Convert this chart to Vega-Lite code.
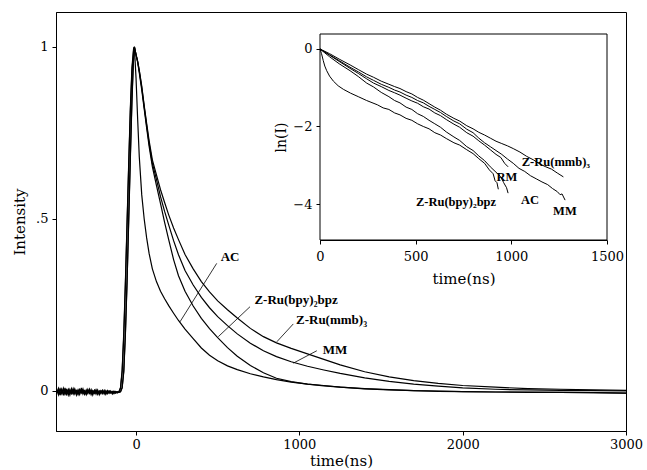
{
"$schema": "https://vega.github.io/schema/vega-lite/v6.json",
"width": 570, "height": 419,
"autosize": "none",
"padding": {"left": 56, "top": 12, "right": 21, "bottom": 39},
"background": "white",
"config": {
  "view": {"stroke": "black", "strokeWidth": 1},
  "font": "DejaVu Serif",
  "axis": {"labelFont": "DejaVu Serif", "titleFont": "DejaVu Serif", "labelColor": "black", "titleColor": "black", "domainColor": "black", "tickColor": "black", "titleFontWeight": "normal", "grid": false, "labelFontSize": 13, "titleFontSize": 15, "tickSize": 4, "domainWidth": 1, "tickWidth": 1}
},
"datasets": {
"main": [
{"s":"AC","t":-485,"v":-0.004},{"s":"AC","t":-475,"v":0.008},{"s":"AC","t":-465,"v":-0.012},{"s":"AC","t":-455,"v":0.005},{"s":"AC","t":-445,"v":-0.013},{"s":"AC","t":-435,"v":0.009},{"s":"AC","t":-425,"v":-0.008},{"s":"AC","t":-415,"v":0.003},{"s":"AC","t":-405,"v":-0.012},{"s":"AC","t":-395,"v":0.007},{"s":"AC","t":-385,"v":-0.006},{"s":"AC","t":-375,"v":0.006},{"s":"AC","t":-365,"v":-0.012},{"s":"AC","t":-355,"v":0.003},{"s":"AC","t":-345,"v":-0.01},{"s":"AC","t":-335,"v":0.009},{"s":"AC","t":-325,"v":-0.009},{"s":"AC","t":-315,"v":0.001},{"s":"AC","t":-305,"v":-0.011},{"s":"AC","t":-295,"v":0.005},{"s":"AC","t":-285,"v":-0.007},{"s":"AC","t":-275,"v":0.004},{"s":"AC","t":-265,"v":-0.012},{"s":"AC","t":-255,"v":0.002},{"s":"AC","t":-245,"v":-0.009},{"s":"AC","t":-235,"v":0.003},{"s":"AC","t":-225,"v":-0.011},{"s":"AC","t":-215,"v":0.0},{"s":"AC","t":-205,"v":-0.008},{"s":"AC","t":-195,"v":0.002},{"s":"AC","t":-185,"v":-0.01},{"s":"AC","t":-175,"v":0.001},{"s":"AC","t":-165,"v":-0.007},{"s":"AC","t":-155,"v":0.0},{"s":"AC","t":-145,"v":-0.009},{"s":"AC","t":-135,"v":-0.001},{"s":"AC","t":-125,"v":-0.006},{"s":"AC","t":-115,"v":-0.002},
{"s":"AC","t":-105,"v":-0.003},{"s":"AC","t":-95,"v":0.01},{"s":"AC","t":-85,"v":0.06},{"s":"AC","t":-75,"v":0.17},{"s":"AC","t":-65,"v":0.32},{"s":"AC","t":-55,"v":0.49},{"s":"AC","t":-45,"v":0.66},{"s":"AC","t":-35,"v":0.82},{"s":"AC","t":-25,"v":0.94},{"s":"AC","t":-15,"v":0.995},{"s":"AC","t":-10,"v":1.0},
{"s":"AC","t":0,"v":0.91},{"s":"AC","t":10,"v":0.79},{"s":"AC","t":20,"v":0.68},{"s":"AC","t":35,"v":0.57},{"s":"AC","t":50,"v":0.5},{"s":"AC","t":65,"v":0.445},{"s":"AC","t":80,"v":0.4},{"s":"AC","t":100,"v":0.355},{"s":"AC","t":125,"v":0.318},{"s":"AC","t":150,"v":0.29},{"s":"AC","t":175,"v":0.268},{"s":"AC","t":200,"v":0.248},{"s":"AC","t":230,"v":0.226},{"s":"AC","t":260,"v":0.205},{"s":"AC","t":300,"v":0.18},{"s":"AC","t":350,"v":0.152},{"s":"AC","t":400,"v":0.125},{"s":"AC","t":450,"v":0.104},{"s":"AC","t":500,"v":0.088},{"s":"AC","t":560,"v":0.073},{"s":"AC","t":620,"v":0.062},{"s":"AC","t":700,"v":0.05},{"s":"AC","t":780,"v":0.041},{"s":"AC","t":860,"v":0.033},{"s":"AC","t":950,"v":0.026},{"s":"AC","t":1050,"v":0.02},{"s":"AC","t":1150,"v":0.016},{"s":"AC","t":1250,"v":0.011},{"s":"AC","t":1400,"v":0.007},{"s":"AC","t":1550,"v":0.004},{"s":"AC","t":1700,"v":0.001},{"s":"AC","t":1850,"v":0.0},{"s":"AC","t":2000,"v":-0.002},{"s":"AC","t":2200,"v":-0.003},{"s":"AC","t":2400,"v":-0.003},{"s":"AC","t":2600,"v":-0.004},{"s":"AC","t":2800,"v":-0.005},{"s":"AC","t":3000,"v":-0.006},
{"s":"bpy","t":-485,"v":0.004},{"s":"bpy","t":-475,"v":-0.011},{"s":"bpy","t":-465,"v":0.006},{"s":"bpy","t":-455,"v":-0.008},{"s":"bpy","t":-445,"v":0.008},{"s":"bpy","t":-435,"v":-0.01},{"s":"bpy","t":-425,"v":0.002},{"s":"bpy","t":-415,"v":-0.012},{"s":"bpy","t":-405,"v":0.005},{"s":"bpy","t":-395,"v":-0.007},{"s":"bpy","t":-385,"v":0.007},{"s":"bpy","t":-375,"v":-0.009},{"s":"bpy","t":-365,"v":0.001},{"s":"bpy","t":-355,"v":-0.011},{"s":"bpy","t":-345,"v":0.004},{"s":"bpy","t":-335,"v":-0.006},{"s":"bpy","t":-325,"v":0.006},{"s":"bpy","t":-315,"v":-0.01},{"s":"bpy","t":-305,"v":0.003},{"s":"bpy","t":-295,"v":-0.008},{"s":"bpy","t":-285,"v":0.005},{"s":"bpy","t":-275,"v":-0.011},{"s":"bpy","t":-265,"v":0.001},{"s":"bpy","t":-255,"v":-0.007},{"s":"bpy","t":-245,"v":0.004},{"s":"bpy","t":-235,"v":-0.01},{"s":"bpy","t":-225,"v":0.0},{"s":"bpy","t":-215,"v":-0.008},{"s":"bpy","t":-205,"v":0.002},{"s":"bpy","t":-195,"v":-0.009},{"s":"bpy","t":-185,"v":0.001},{"s":"bpy","t":-175,"v":-0.008},{"s":"bpy","t":-165,"v":0.0},{"s":"bpy","t":-155,"v":-0.006},{"s":"bpy","t":-145,"v":-0.001},{"s":"bpy","t":-135,"v":-0.008},{"s":"bpy","t":-125,"v":-0.002},{"s":"bpy","t":-115,"v":-0.006},
{"s":"bpy","t":-105,"v":-0.003},{"s":"bpy","t":-95,"v":0.008},{"s":"bpy","t":-85,"v":0.055},{"s":"bpy","t":-75,"v":0.16},{"s":"bpy","t":-65,"v":0.31},{"s":"bpy","t":-55,"v":0.48},{"s":"bpy","t":-45,"v":0.65},{"s":"bpy","t":-35,"v":0.81},{"s":"bpy","t":-25,"v":0.93},{"s":"bpy","t":-15,"v":0.99},{"s":"bpy","t":-10,"v":1.0},
{"s":"bpy","t":0,"v":0.978},{"s":"bpy","t":10,"v":0.955},{"s":"bpy","t":20,"v":0.925},{"s":"bpy","t":35,"v":0.875},{"s":"bpy","t":50,"v":0.82},{"s":"bpy","t":65,"v":0.765},{"s":"bpy","t":80,"v":0.712},{"s":"bpy","t":100,"v":0.652},{"s":"bpy","t":125,"v":0.598},{"s":"bpy","t":150,"v":0.545},{"s":"bpy","t":175,"v":0.49},{"s":"bpy","t":200,"v":0.44},{"s":"bpy","t":230,"v":0.382},{"s":"bpy","t":260,"v":0.335},{"s":"bpy","t":300,"v":0.29},{"s":"bpy","t":350,"v":0.247},{"s":"bpy","t":400,"v":0.211},{"s":"bpy","t":450,"v":0.181},{"s":"bpy","t":500,"v":0.155},{"s":"bpy","t":560,"v":0.126},{"s":"bpy","t":620,"v":0.101},{"s":"bpy","t":700,"v":0.074},{"s":"bpy","t":780,"v":0.053},{"s":"bpy","t":860,"v":0.037},{"s":"bpy","t":950,"v":0.027},{"s":"bpy","t":1050,"v":0.02},{"s":"bpy","t":1150,"v":0.015},{"s":"bpy","t":1250,"v":0.011},{"s":"bpy","t":1400,"v":0.006},{"s":"bpy","t":1550,"v":0.003},{"s":"bpy","t":1700,"v":0.001},{"s":"bpy","t":1850,"v":-0.001},{"s":"bpy","t":2000,"v":-0.002},{"s":"bpy","t":2200,"v":-0.003},{"s":"bpy","t":2400,"v":-0.004},{"s":"bpy","t":2600,"v":-0.004},{"s":"bpy","t":2800,"v":-0.005},{"s":"bpy","t":3000,"v":-0.006},
{"s":"MM","t":-485,"v":-0.006},{"s":"MM","t":-475,"v":0.003},{"s":"MM","t":-465,"v":-0.009},{"s":"MM","t":-455,"v":0.004},{"s":"MM","t":-445,"v":-0.007},{"s":"MM","t":-435,"v":0.002},{"s":"MM","t":-425,"v":-0.01},{"s":"MM","t":-415,"v":0.005},{"s":"MM","t":-405,"v":-0.006},{"s":"MM","t":-395,"v":0.001},{"s":"MM","t":-385,"v":-0.009},{"s":"MM","t":-375,"v":0.004},{"s":"MM","t":-365,"v":-0.005},{"s":"MM","t":-355,"v":0.002},{"s":"MM","t":-345,"v":-0.008},{"s":"MM","t":-335,"v":0.003},{"s":"MM","t":-325,"v":-0.006},{"s":"MM","t":-315,"v":0.0},{"s":"MM","t":-305,"v":-0.009},{"s":"MM","t":-295,"v":0.002},{"s":"MM","t":-285,"v":-0.005},{"s":"MM","t":-275,"v":0.001},{"s":"MM","t":-265,"v":-0.008},{"s":"MM","t":-255,"v":0.002},{"s":"MM","t":-245,"v":-0.006},{"s":"MM","t":-235,"v":0.0},{"s":"MM","t":-225,"v":-0.007},{"s":"MM","t":-215,"v":0.001},{"s":"MM","t":-205,"v":-0.005},{"s":"MM","t":-195,"v":-0.001},{"s":"MM","t":-185,"v":-0.007},{"s":"MM","t":-175,"v":0.0},{"s":"MM","t":-165,"v":-0.005},{"s":"MM","t":-155,"v":-0.002},{"s":"MM","t":-145,"v":-0.006},{"s":"MM","t":-135,"v":-0.001},{"s":"MM","t":-125,"v":-0.005},{"s":"MM","t":-115,"v":-0.003},{"s":"MM","t":-105,"v":-0.004},
{"s":"MM","t":-95,"v":-0.002},{"s":"MM","t":-85,"v":0.01},{"s":"MM","t":-75,"v":0.06},{"s":"MM","t":-65,"v":0.17},{"s":"MM","t":-55,"v":0.32},{"s":"MM","t":-45,"v":0.5},{"s":"MM","t":-35,"v":0.68},{"s":"MM","t":-25,"v":0.85},{"s":"MM","t":-17,"v":0.95},{"s":"MM","t":-10,"v":1.0},
{"s":"MM","t":0,"v":0.978},{"s":"MM","t":10,"v":0.958},{"s":"MM","t":20,"v":0.93},{"s":"MM","t":35,"v":0.882},{"s":"MM","t":50,"v":0.826},{"s":"MM","t":65,"v":0.772},{"s":"MM","t":80,"v":0.72},{"s":"MM","t":100,"v":0.662},{"s":"MM","t":125,"v":0.615},{"s":"MM","t":150,"v":0.565},{"s":"MM","t":175,"v":0.522},{"s":"MM","t":200,"v":0.483},{"s":"MM","t":230,"v":0.437},{"s":"MM","t":260,"v":0.396},{"s":"MM","t":300,"v":0.35},{"s":"MM","t":350,"v":0.308},{"s":"MM","t":400,"v":0.272},{"s":"MM","t":450,"v":0.242},{"s":"MM","t":500,"v":0.216},{"s":"MM","t":560,"v":0.19},{"s":"MM","t":620,"v":0.166},{"s":"MM","t":700,"v":0.139},{"s":"MM","t":780,"v":0.117},{"s":"MM","t":860,"v":0.1},{"s":"MM","t":950,"v":0.085},{"s":"MM","t":1050,"v":0.072},{"s":"MM","t":1150,"v":0.061},{"s":"MM","t":1250,"v":0.051},{"s":"MM","t":1400,"v":0.038},{"s":"MM","t":1550,"v":0.028},{"s":"MM","t":1700,"v":0.02},{"s":"MM","t":1850,"v":0.014},{"s":"MM","t":2000,"v":0.009},{"s":"MM","t":2200,"v":0.005},{"s":"MM","t":2400,"v":0.003},{"s":"MM","t":2600,"v":0.002},{"s":"MM","t":2800,"v":0.001},{"s":"MM","t":3000,"v":0.0},
{"s":"mmb","t":-485,"v":0.002},{"s":"mmb","t":-475,"v":-0.007},{"s":"mmb","t":-465,"v":0.005},{"s":"mmb","t":-455,"v":-0.005},{"s":"mmb","t":-445,"v":0.003},{"s":"mmb","t":-435,"v":-0.008},{"s":"mmb","t":-425,"v":0.004},{"s":"mmb","t":-415,"v":-0.004},{"s":"mmb","t":-405,"v":0.002},{"s":"mmb","t":-395,"v":-0.007},{"s":"mmb","t":-385,"v":0.003},{"s":"mmb","t":-375,"v":-0.006},{"s":"mmb","t":-365,"v":0.001},{"s":"mmb","t":-355,"v":-0.008},{"s":"mmb","t":-345,"v":0.004},{"s":"mmb","t":-335,"v":-0.004},{"s":"mmb","t":-325,"v":0.002},{"s":"mmb","t":-315,"v":-0.007},{"s":"mmb","t":-305,"v":0.001},{"s":"mmb","t":-295,"v":-0.005},{"s":"mmb","t":-285,"v":0.003},{"s":"mmb","t":-275,"v":-0.007},{"s":"mmb","t":-265,"v":0.0},{"s":"mmb","t":-255,"v":-0.005},{"s":"mmb","t":-245,"v":0.002},{"s":"mmb","t":-235,"v":-0.006},{"s":"mmb","t":-225,"v":0.0},{"s":"mmb","t":-215,"v":-0.004},{"s":"mmb","t":-205,"v":0.001},{"s":"mmb","t":-195,"v":-0.006},{"s":"mmb","t":-185,"v":-0.001},{"s":"mmb","t":-175,"v":-0.005},{"s":"mmb","t":-165,"v":0.0},{"s":"mmb","t":-155,"v":-0.005},{"s":"mmb","t":-145,"v":-0.002},{"s":"mmb","t":-135,"v":-0.004},{"s":"mmb","t":-125,"v":-0.001},{"s":"mmb","t":-115,"v":-0.004},{"s":"mmb","t":-105,"v":-0.003},
{"s":"mmb","t":-95,"v":-0.002},{"s":"mmb","t":-85,"v":0.009},{"s":"mmb","t":-75,"v":0.055},{"s":"mmb","t":-65,"v":0.165},{"s":"mmb","t":-55,"v":0.315},{"s":"mmb","t":-45,"v":0.49},{"s":"mmb","t":-35,"v":0.67},{"s":"mmb","t":-25,"v":0.84},{"s":"mmb","t":-17,"v":0.945},{"s":"mmb","t":-10,"v":1.0},
{"s":"mmb","t":0,"v":0.978},{"s":"mmb","t":10,"v":0.958},{"s":"mmb","t":20,"v":0.932},{"s":"mmb","t":35,"v":0.886},{"s":"mmb","t":50,"v":0.83},{"s":"mmb","t":65,"v":0.778},{"s":"mmb","t":80,"v":0.728},{"s":"mmb","t":100,"v":0.672},{"s":"mmb","t":125,"v":0.628},{"s":"mmb","t":150,"v":0.585},{"s":"mmb","t":175,"v":0.548},{"s":"mmb","t":200,"v":0.512},{"s":"mmb","t":230,"v":0.474},{"s":"mmb","t":260,"v":0.44},{"s":"mmb","t":300,"v":0.397},{"s":"mmb","t":350,"v":0.355},{"s":"mmb","t":400,"v":0.318},{"s":"mmb","t":450,"v":0.288},{"s":"mmb","t":500,"v":0.262},{"s":"mmb","t":560,"v":0.236},{"s":"mmb","t":620,"v":0.212},{"s":"mmb","t":700,"v":0.182},{"s":"mmb","t":780,"v":0.158},{"s":"mmb","t":860,"v":0.14},{"s":"mmb","t":950,"v":0.124},{"s":"mmb","t":1050,"v":0.108},{"s":"mmb","t":1150,"v":0.092},{"s":"mmb","t":1250,"v":0.076},{"s":"mmb","t":1400,"v":0.056},{"s":"mmb","t":1550,"v":0.041},{"s":"mmb","t":1700,"v":0.03},{"s":"mmb","t":1850,"v":0.022},{"s":"mmb","t":2000,"v":0.016},{"s":"mmb","t":2200,"v":0.011},{"s":"mmb","t":2400,"v":0.007},{"s":"mmb","t":2600,"v":0.005},{"s":"mmb","t":2800,"v":0.003},{"s":"mmb","t":3000,"v":0.002}
],
"mainPtr": [
{"t":494,"t2":269,"v":0.371,"v2":0.201},
{"t":698,"t2":504,"v":0.245,"v2":0.158},
{"t":963,"t2":862,"v":0.195,"v2":0.143},
{"t":1107,"t2":963,"v":0.117,"v2":0.081}
],
"mainLab": [
{"t":576,"v":0.39,"label":"AC"},
{"t":980,"v":0.265,"label":"Z-Ru(bpy)₂bpz"},
{"t":1197,"v":0.206,"label":"Z-Ru(mmb)₃"},
{"t":1219,"v":0.119,"label":"MM"}
],
"insetBox": [{"t":0,"t2":1500,"v":-4.929,"v2":0.387}],
"inset": [
{"s":"AC","t":0,"v":0},{"s":"AC","t":8,"v":-0.12},{"s":"AC","t":17,"v":-0.3},{"s":"AC","t":25,"v":-0.44},{"s":"AC","t":35,"v":-0.56},{"s":"AC","t":50,"v":-0.7},{"s":"AC","t":70,"v":-0.83},{"s":"AC","t":95,"v":-0.95},{"s":"AC","t":122,"v":-1.04},{"s":"AC","t":160,"v":-1.14},{"s":"AC","t":200,"v":-1.23},{"s":"AC","t":244,"v":-1.33},{"s":"AC","t":300,"v":-1.44},{"s":"AC","t":330,"v":-1.52},{"s":"AC","t":360,"v":-1.56},{"s":"AC","t":390,"v":-1.65},{"s":"AC","t":418,"v":-1.7},{"s":"AC","t":450,"v":-1.79},{"s":"AC","t":480,"v":-1.84},{"s":"AC","t":510,"v":-1.93},{"s":"AC","t":540,"v":-2.0},{"s":"AC","t":570,"v":-2.06},{"s":"AC","t":600,"v":-2.16},{"s":"AC","t":630,"v":-2.22},{"s":"AC","t":660,"v":-2.31},{"s":"AC","t":700,"v":-2.42},{"s":"AC","t":730,"v":-2.48},{"s":"AC","t":767,"v":-2.6},{"s":"AC","t":800,"v":-2.7},{"s":"AC","t":830,"v":-2.83},{"s":"AC","t":860,"v":-2.95},{"s":"AC","t":885,"v":-3.12},{"s":"AC","t":905,"v":-3.22},{"s":"AC","t":915,"v":-3.4},{"s":"AC","t":925,"v":-3.45},{"s":"AC","t":932,"v":-3.62},
{"s":"bpy","t":0,"v":0},{"s":"bpy","t":25,"v":-0.1},{"s":"bpy","t":50,"v":-0.2},{"s":"bpy","t":100,"v":-0.38},{"s":"bpy","t":157,"v":-0.56},{"s":"bpy","t":200,"v":-0.71},{"s":"bpy","t":244,"v":-0.88},{"s":"bpy","t":280,"v":-0.98},{"s":"bpy","t":320,"v":-1.12},{"s":"bpy","t":360,"v":-1.23},{"s":"bpy","t":390,"v":-1.33},{"s":"bpy","t":418,"v":-1.39},{"s":"bpy","t":450,"v":-1.5},{"s":"bpy","t":480,"v":-1.56},{"s":"bpy","t":510,"v":-1.67},{"s":"bpy","t":540,"v":-1.74},{"s":"bpy","t":570,"v":-1.84},{"s":"bpy","t":600,"v":-1.93},{"s":"bpy","t":630,"v":-2.02},{"s":"bpy","t":660,"v":-2.14},{"s":"bpy","t":700,"v":-2.27},{"s":"bpy","t":730,"v":-2.36},{"s":"bpy","t":767,"v":-2.52},{"s":"bpy","t":800,"v":-2.62},{"s":"bpy","t":830,"v":-2.76},{"s":"bpy","t":860,"v":-2.88},{"s":"bpy","t":890,"v":-3.04},{"s":"bpy","t":920,"v":-3.18},{"s":"bpy","t":945,"v":-3.3},{"s":"bpy","t":960,"v":-3.45},{"s":"bpy","t":975,"v":-3.58},{"s":"bpy","t":983,"v":-3.72},
{"s":"RM","t":0,"v":0},{"s":"RM","t":50,"v":-0.16},{"s":"RM","t":100,"v":-0.32},{"s":"RM","t":157,"v":-0.5},{"s":"RM","t":200,"v":-0.63},{"s":"RM","t":244,"v":-0.77},{"s":"RM","t":280,"v":-0.88},{"s":"RM","t":320,"v":-0.97},{"s":"RM","t":360,"v":-1.07},{"s":"RM","t":390,"v":-1.13},{"s":"RM","t":418,"v":-1.19},{"s":"RM","t":450,"v":-1.27},{"s":"RM","t":480,"v":-1.34},{"s":"RM","t":510,"v":-1.4},{"s":"RM","t":540,"v":-1.49},{"s":"RM","t":570,"v":-1.55},{"s":"RM","t":600,"v":-1.65},{"s":"RM","t":630,"v":-1.72},{"s":"RM","t":660,"v":-1.82},{"s":"RM","t":700,"v":-1.94},{"s":"RM","t":730,"v":-2.02},{"s":"RM","t":767,"v":-2.16},{"s":"RM","t":800,"v":-2.25},{"s":"RM","t":830,"v":-2.37},{"s":"RM","t":860,"v":-2.48},{"s":"RM","t":890,"v":-2.6},{"s":"RM","t":920,"v":-2.72},{"s":"RM","t":945,"v":-2.8},{"s":"RM","t":965,"v":-2.95},{"s":"RM","t":983,"v":-3.04},
{"s":"MM","t":0,"v":0},{"s":"MM","t":50,"v":-0.15},{"s":"MM","t":100,"v":-0.3},{"s":"MM","t":157,"v":-0.47},{"s":"MM","t":200,"v":-0.59},{"s":"MM","t":244,"v":-0.72},{"s":"MM","t":280,"v":-0.81},{"s":"MM","t":320,"v":-0.91},{"s":"MM","t":360,"v":-0.99},{"s":"MM","t":390,"v":-1.06},{"s":"MM","t":418,"v":-1.11},{"s":"MM","t":450,"v":-1.19},{"s":"MM","t":480,"v":-1.25},{"s":"MM","t":510,"v":-1.33},{"s":"MM","t":540,"v":-1.39},{"s":"MM","t":570,"v":-1.48},{"s":"MM","t":600,"v":-1.56},{"s":"MM","t":630,"v":-1.64},{"s":"MM","t":660,"v":-1.74},{"s":"MM","t":700,"v":-1.86},{"s":"MM","t":730,"v":-1.93},{"s":"MM","t":767,"v":-2.07},{"s":"MM","t":800,"v":-2.16},{"s":"MM","t":830,"v":-2.3},{"s":"MM","t":860,"v":-2.42},{"s":"MM","t":890,"v":-2.52},{"s":"MM","t":920,"v":-2.62},{"s":"MM","t":950,"v":-2.72},{"s":"MM","t":980,"v":-2.84},{"s":"MM","t":1010,"v":-2.95},{"s":"MM","t":1040,"v":-3.08},{"s":"MM","t":1070,"v":-3.16},{"s":"MM","t":1100,"v":-3.27},{"s":"MM","t":1130,"v":-3.35},{"s":"MM","t":1160,"v":-3.43},{"s":"MM","t":1190,"v":-3.5},{"s":"MM","t":1215,"v":-3.6},{"s":"MM","t":1240,"v":-3.68},{"s":"MM","t":1255,"v":-3.76},{"s":"MM","t":1265,"v":-3.74},{"s":"MM","t":1281,"v":-3.9},
{"s":"mmb","t":0,"v":0},{"s":"mmb","t":50,"v":-0.12},{"s":"mmb","t":100,"v":-0.26},{"s":"mmb","t":157,"v":-0.41},{"s":"mmb","t":200,"v":-0.53},{"s":"mmb","t":244,"v":-0.65},{"s":"mmb","t":280,"v":-0.73},{"s":"mmb","t":320,"v":-0.83},{"s":"mmb","t":360,"v":-0.91},{"s":"mmb","t":390,"v":-0.97},{"s":"mmb","t":418,"v":-1.02},{"s":"mmb","t":450,"v":-1.1},{"s":"mmb","t":480,"v":-1.16},{"s":"mmb","t":510,"v":-1.25},{"s":"mmb","t":540,"v":-1.32},{"s":"mmb","t":570,"v":-1.41},{"s":"mmb","t":600,"v":-1.5},{"s":"mmb","t":630,"v":-1.58},{"s":"mmb","t":660,"v":-1.68},{"s":"mmb","t":700,"v":-1.79},{"s":"mmb","t":730,"v":-1.86},{"s":"mmb","t":767,"v":-1.98},{"s":"mmb","t":800,"v":-2.06},{"s":"mmb","t":830,"v":-2.15},{"s":"mmb","t":860,"v":-2.22},{"s":"mmb","t":890,"v":-2.3},{"s":"mmb","t":920,"v":-2.38},{"s":"mmb","t":950,"v":-2.44},{"s":"mmb","t":980,"v":-2.5},{"s":"mmb","t":1010,"v":-2.57},{"s":"mmb","t":1045,"v":-2.66},{"s":"mmb","t":1080,"v":-2.77},{"s":"mmb","t":1115,"v":-2.86},{"s":"mmb","t":1150,"v":-2.97},{"s":"mmb","t":1180,"v":-3.04},{"s":"mmb","t":1210,"v":-3.1},{"s":"mmb","t":1240,"v":-3.2},{"s":"mmb","t":1272,"v":-3.3}
],
"insetLab": [
{"t":1233,"v":-2.92,"label":"Z-Ru(mmb)₃"},
{"t":977,"v":-3.3,"label":"RM"},
{"t":711,"v":-3.95,"label":"Z-Ru(bpy)₂bpz"},
{"t":1098,"v":-3.9,"label":"AC"},
{"t":1280,"v":-4.18,"label":"MM"}
]
},
"layer": [
  {"layer": [
    {"data": {"name": "main"},
     "mark": {"type": "line", "color": "black", "strokeWidth": 1.2},
     "encoding": {
       "x": {"field": "t", "type": "quantitative", "scale": {"domain": [-490, 3000], "nice": false, "zero": false},
             "axis": {"values": [0, 1000, 2000, 3000], "format": "d", "title": "time(ns)", "labelPadding": 3, "titlePadding": 2, "labelFlush": false}},
       "y": {"field": "v", "type": "quantitative", "scale": {"domain": [-0.1163, 1.1017], "nice": false, "zero": false},
             "axis": {"values": [0, 0.5, 1], "title": "Intensity", "labelExpr": "datum.value === 0.5 ? '.5' : format(datum.value, 'd')", "labelPadding": 4, "titlePadding": 8}},
       "detail": {"field": "s"}
     }},
    {"data": {"name": "mainPtr"},
     "mark": {"type": "rule", "color": "black", "strokeWidth": 0.8},
     "encoding": {"x": {"field": "t", "type": "quantitative"}, "x2": {"field": "t2"}, "y": {"field": "v", "type": "quantitative"}, "y2": {"field": "v2"}}},
    {"data": {"name": "mainLab"},
     "mark": {"type": "text", "font": "Liberation Serif", "fontWeight": "bold", "fontSize": 13, "color": "black", "align": "center", "baseline": "middle"},
     "encoding": {"x": {"field": "t", "type": "quantitative"}, "y": {"field": "v", "type": "quantitative"}, "text": {"field": "label"}}}
  ]},
  {"layer": [
    {"data": {"name": "insetBox"},
     "mark": {"type": "rect", "fill": "white", "stroke": "black", "strokeWidth": 1},
     "encoding": {
       "x": {"field": "t", "type": "quantitative", "scale": {"domain": [0, 1500], "range": [264, 551], "nice": false, "zero": false},
             "axis": {"orient": "bottom", "offset": -191, "values": [0, 500, 1000, 1500], "format": "d", "title": "time(ns)", "labelPadding": 6, "titlePadding": 8, "labelFlush": false}},
       "x2": {"field": "t2"},
       "y": {"field": "v", "type": "quantitative", "scale": {"domain": [-4.929, 0.387], "range": [228, 22], "nice": false, "zero": false},
             "axis": {"orient": "left", "offset": -264, "values": [0, -2, -4], "format": "d", "title": "ln(I)", "titleFontSize": 14, "labelPadding": 4, "titlePadding": 4}},
       "y2": {"field": "v2"}
     }},
    {"data": {"name": "inset"},
     "mark": {"type": "line", "color": "black", "strokeWidth": 1},
     "encoding": {"x": {"field": "t", "type": "quantitative"}, "y": {"field": "v", "type": "quantitative"}, "detail": {"field": "s"}}},
    {"data": {"name": "insetLab"},
     "mark": {"type": "text", "font": "Liberation Serif", "fontWeight": "bold", "fontSize": 12.5, "color": "black", "align": "center", "baseline": "middle"},
     "encoding": {"x": {"field": "t", "type": "quantitative"}, "y": {"field": "v", "type": "quantitative"}, "text": {"field": "label"}}}
  ]}
],
"resolve": {"scale": {"x": "independent", "y": "independent"}, "axis": {"x": "independent", "y": "independent"}}
}
